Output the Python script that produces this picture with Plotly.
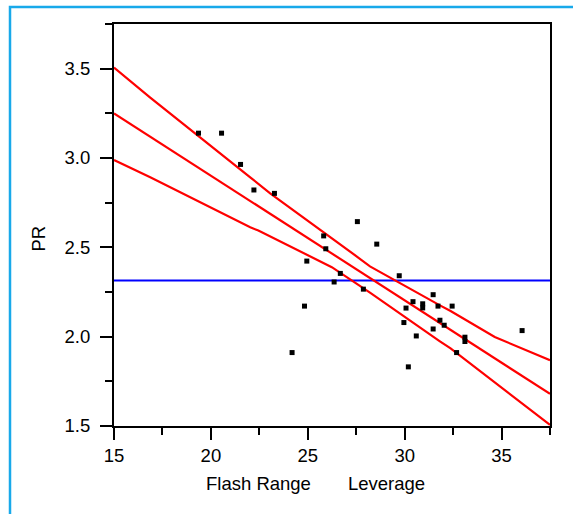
import plotly.graph_objects as go

# Leverage residuals for Flash Range (x) and PR (y)
lev_x = [19.36, 20.55, 21.53, 22.22, 23.28, 27.56, 25.82, 25.93, 28.56, 24.95,
         26.68, 26.36, 27.87, 29.72, 24.83, 24.19, 31.47, 30.43, 30.07, 30.93,
         30.93, 31.72, 32.45, 29.96, 31.82, 32.04, 31.47, 30.60, 33.11, 33.11,
         36.06, 32.68, 30.19]
lev_y = [3.139, 3.139, 2.964, 2.821, 2.802, 2.644, 2.564, 2.492, 2.518, 2.423,
         2.354, 2.306, 2.266, 2.341, 2.171, 1.911, 2.235, 2.196, 2.160, 2.184,
         2.161, 2.171, 2.171, 2.079, 2.092, 2.064, 2.043, 2.004, 1.997, 1.973,
         2.034, 1.911, 1.831]

# Mean of PR (horizontal reference line)
pr_mean = 2.315

# Fitted line end points
fit_x = [15.0, 37.5]
fit_y = [3.25, 1.68]

# Confidence curves
upper_x = [15.0, 16.87, 22.03, 23.06, 27.69, 28.21, 31.82, 32.37, 34.65, 37.5]
upper_y = [3.506, 3.338, 2.892, 2.802, 2.436, 2.393, 2.175, 2.144, 1.998, 1.868]
lower_x = [15.0, 16.87, 22.03, 22.45, 26.24, 27.69, 28.21, 31.82, 32.37, 37.5]
lower_y = [2.989, 2.892, 2.612, 2.594, 2.389, 2.283, 2.246, 1.974, 1.934, 1.506]

x_range = [15, 37.5]
y_range = [1.5, 3.75]

FONT = "Liberation Sans, Arial, sans-serif"
RED = "#ff0000"

fig = go.Figure()

fig.add_trace(go.Scatter(x=x_range, y=[pr_mean, pr_mean], mode="lines",
                         line=dict(color="#0000ff", width=2), hoverinfo="skip"))
for xs, ys in [(upper_x, upper_y), (fit_x, fit_y), (lower_x, lower_y)]:
    fig.add_trace(go.Scatter(x=xs, y=ys, mode="lines",
                             line=dict(color=RED, width=2.2), hoverinfo="skip"))
fig.add_trace(go.Scatter(x=lev_x, y=lev_y, mode="markers",
                         marker=dict(symbol="square", size=5, color="black",
                                     line=dict(width=0))))

axis_common = dict(
    showline=True, linecolor="black", linewidth=2, mirror=True,
    ticks="outside", ticklen=12, tickwidth=2, tickcolor="black",
    showgrid=False, zeroline=False,
    tickfont=dict(family=FONT, size=18.5, color="black"),
)

fig.update_xaxes(range=x_range, tick0=15, dtick=5, ticklabelstandoff=0,
                 minor=dict(dtick=2.5, tick0=15, ticks="outside", ticklen=7,
                            tickwidth=2, tickcolor="black", showgrid=False),
                 **axis_common)
fig.update_yaxes(range=y_range, tick0=1.5, dtick=0.5, tickformat=".1f",
                 ticklabelstandoff=6,
                 minor=dict(dtick=0.25, tick0=1.5, ticks="outside", ticklen=7,
                            tickwidth=2, tickcolor="black", showgrid=False),
                 **axis_common)

W, H = 573, 514
L, R, T, B = 114, 23, 24, 88
pw, ph = W - L - R, H - T - B


def px(xp):
    return (xp - L) / pw


def py(yp):
    return (H - B - yp) / ph


fig.update_layout(
    width=W, height=H,
    margin=dict(l=L, r=R, t=T, b=B),
    paper_bgcolor="white", plot_bgcolor="white",
    showlegend=False,
    font=dict(family=FONT, size=18.5, color="black"),
    shapes=[dict(type="rect", xref="paper", yref="paper",
                 x0=px(10), x1=px(590), y0=py(530), y1=py(7),
                 line=dict(color="#18a9ea", width=2.5), layer="below")],
    annotations=[
        dict(text="Flash Range", xref="paper", yref="paper", x=px(258), y=py(484),
             xanchor="center", yanchor="middle", showarrow=False,
             font=dict(family=FONT, size=18.5, color="black")),
        dict(text="Leverage", xref="paper", yref="paper", x=px(386), y=py(484),
             xanchor="center", yanchor="middle", showarrow=False,
             font=dict(family=FONT, size=18.5, color="black")),
        dict(text="PR", xref="paper", yref="paper", x=px(38.5), y=py(239),
             xanchor="center", yanchor="middle", showarrow=False, textangle=-90,
             font=dict(family=FONT, size=18.5, color="black")),
    ],
)

fig.write_html("out.html")
